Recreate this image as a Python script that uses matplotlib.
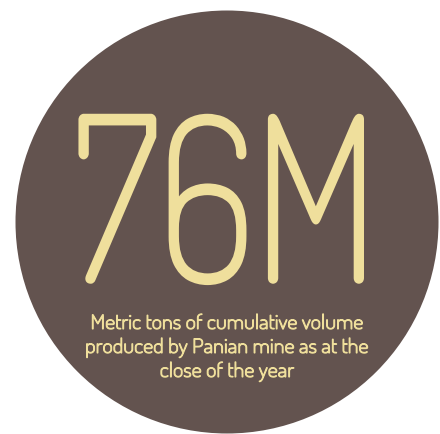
import matplotlib
matplotlib.use("Agg")
import matplotlib.pyplot as plt
import matplotlib.patheffects as pe
from matplotlib.patches import Circle
from matplotlib.transforms import Affine2D

# contenu de l'infographie
valeur = "76M"
legende = ["Metric tons of cumulative volume",
           "produced by Panian mine as at the",
           "close of the year"]

brun = "#63534f"
jaune = "#efdf9c"
polices = ["Dosis", "DejaVu Sans"]


# etire le texte en largeur autour de x = cx (pixels) et epaissit le trait
class Etire(pe.AbstractPathEffect):
    def __init__(self, sx, cx, lw):
        super().__init__()
        self.sx, self.cx, self.lw = sx, cx, lw

    def draw_path(self, renderer, gc, tpath, affine, rgbFace=None):
        aff = affine + Affine2D().translate(-self.cx, 0).scale(self.sx, 1).translate(self.cx, 0)
        gc0 = renderer.new_gc()
        gc0.copy_properties(gc)
        gc0.set_linewidth(renderer.points_to_pixels(self.lw))
        gc0.set_foreground(rgbFace)
        gc0.set_joinstyle("round")
        gc0.set_capstyle("round")
        renderer.draw_path(gc0, tpath, aff, rgbFace)
        gc0.restore()


fig = plt.figure(figsize=(4.40, 4.35), dpi=100)
ax = fig.add_axes([0, 0, 1, 1])
ax.set_xlim(0, 440)
ax.set_ylim(435, 0)
ax.set_aspect("equal")
ax.axis("off")

ax.add_patch(Circle((227, 223), 211.5, color=brun, lw=0))

# grand chiffre
cx = ax.transData.transform((226, 0))[0]
ax.text(226, 283, valeur, ha="center", va="baseline", fontsize=164,
        color=jaune, family=polices, path_effects=[Etire(0.835, cx, 1.8)])

# texte du bas
cx = ax.transData.transform((227, 0))[0]
for i, ligne in enumerate(legende):
    ax.text(227, 330 + i * 24, ligne, ha="center", va="baseline",
            fontsize=14.2, color=jaune, family=polices,
            path_effects=[Etire(1.14, cx, 0.6)])

fig.savefig("out.png", dpi=100)
